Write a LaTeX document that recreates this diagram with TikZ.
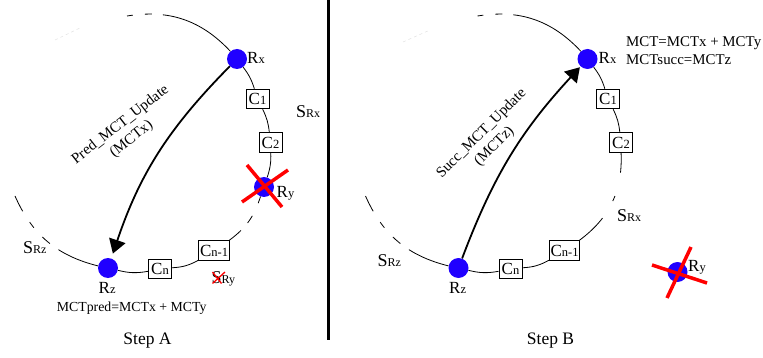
\documentclass[tikz,border=0pt]{standalone}
\usepackage{fontspec}
\setmainfont{Liberation Serif}
\usetikzlibrary{arrows.meta,calc}
\definecolor{dotblue}{RGB}{32,0,255}
\definecolor{xred}{RGB}{255,0,0}
\newcommand{\bigsm}[2]{{\fontsize{17}{18}\selectfont #1}{\fontsize{12.5}{13}\selectfont #2}}
\newcommand{\Slab}[1]{{\fontsize{18}{20}\selectfont S}{\fontsize{12}{13}\selectfont #1}}
\begin{document}
\begin{tikzpicture}[x=1pt,y=-1pt,
  ring/.style={draw=black, line width=0.8pt},
  dot/.style={circle, fill=dotblue, minimum size=20pt, inner sep=0pt},
  cbox/.style={draw=black, line width=1pt, fill=white, minimum width=23pt, minimum height=19.5pt, inner sep=1.2pt},
  arr/.style={draw=black, line width=1.8pt, -{Triangle[length=14pt,width=17pt]}},
  cross/.style={draw=xred, line width=3.5pt},
  txt/.style={inner sep=0pt, text=black},
  faint/.style={draw=black!10, line width=0.6pt, dashed},
]
\useasboundingbox (0,0) rectangle (763,358);

% separator
\draw[line width=3pt] (328.5,0) -- (328.5,340);

%================ Step A ================
\coordinate (aT) at (127,16);
\coordinate (aL) at (15,196);
\node[dot] (aRx) at (237,59) {};
\node[cbox] (aC1) at (257.5,99) {\bigsm{C}{1}};
\node[cbox] (aC2) at (270.5,142.5) {\bigsm{C}{2}};
\node[dot] (aRy) at (264,187) {};
\node[cbox, minimum width=30pt] (aCn1) at (214,250.5) {\bigsm{C}{n-1}};
\node[cbox] (aCn) at (160,269) {\bigsm{C}{n}};
\node[dot] (aRz) at (108,268) {};

\draw[faint] (55,40) -- (82,27);
\draw[ring, dash pattern=on 6pt off 12pt on 7pt off 11pt on 400pt] (aT) to[bend left=28] (aRx);
\draw[ring] (aRx) to[bend left=10] (aC1);
\draw[ring] (aC1) to[bend left=10] (aC2);
\draw[ring] (aC2) to[bend left=10] (aRy);
\draw[ring, dash pattern=on 7pt off 14pt on 8.5pt off 10pt on 60pt] (aRy) to[bend left=18] (aCn1);
\draw[ring] (aCn1) to[bend left=13] (aCn);
\draw[ring] (aCn) to[bend left=12] (aRz);
\draw[ring, dash pattern=on 43pt off 10.5pt on 10pt off 12.5pt on 7pt off 13pt on 20pt] (aRz) to[bend left=26] (aL);

\draw[arr, shorten >=5pt] (aRx) to[bend right=13] (aRz);

\draw[cross] ($(aRy)+(-17,-22)$) -- ($(aRy)+(18,20)$);
\draw[cross] ($(aRy)+(24,-17)$) -- ($(aRy)+(-22,15)$);

\node[txt, anchor=base west] (aRxl) at (247,64) {\bigsm{R}{x}};
\node[txt, anchor=base west] (aRyl) at (276.5,197.5) {\bigsm{R}{y}};
\node[txt, anchor=base west] (aRzl) at (98.5,293.5) {\bigsm{R}{z}};
\node[txt, anchor=base west] (aSRx) at (296,118) {\Slab{Rx}};
\node[txt, anchor=base west] (aSRz) at (23,253) {\Slab{Rz}};
\node[txt, anchor=base west] (aSRy) at (211.5,283) {\Slab{Ry}};
\draw[draw=xred, line width=1.3pt] (212.5,272) -- (221.5,283.5);
\draw[draw=xred, line width=1.3pt] (212.5,283.5) -- (225,272);

\node[txt, rotate=38, align=center, font=\fontsize{15}{18}\selectfont] (aUpd) at (126,132) {Pred\_MCT\_Update\\(MCTx)};
\node[txt, anchor=base west, font=\fontsize{13.8}{16}\selectfont] (aMCT) at (56.7,311) {MCTpred=MCTx + MCTy};
\node[txt, anchor=base, font=\fontsize{17.5}{20}\selectfont] (aStep) at (147.5,344.5) {Step A};

%================ Step B ================
\coordinate (bT) at (477.5,16);
\coordinate (bL) at (365.5,196);
\node[dot] (bRx) at (587.5,59) {};
\node[cbox] (bC1) at (608,99) {\bigsm{C}{1}};
\node[cbox] (bC2) at (621,142.5) {\bigsm{C}{2}};
\node[cbox, minimum width=30pt] (bCn1) at (564.5,250.5) {\bigsm{C}{n-1}};
\node[cbox] (bCn) at (510.5,269) {\bigsm{C}{n}};
\node[dot] (bRz) at (458.5,268) {};
\node[dot] (bRy) at (677.5,272) {};

\draw[faint] (403,42) -- (430,30);
\draw[ring, dash pattern=on 6pt off 12pt on 7pt off 11pt on 400pt] (bT) to[bend left=28] (bRx);
\draw[ring] (bRx) to[bend left=10] (bC1);
\draw[ring] (bC1) to[bend left=10] (bC2);
\draw[ring, dash pattern=on 20pt off 24pt on 5.5pt off 20pt on 80pt] (bC2) to[bend left=28] (bCn1);
\draw[ring] (bCn1) to[bend left=13] (bCn);
\draw[ring] (bCn) to[bend left=12] (bRz);
\draw[ring, dash pattern=on 43pt off 10.5pt on 10pt off 12.5pt on 7pt off 13pt on 20pt] (bRz) to[bend left=26] (bL);

\draw[arr, shorten >=1pt] (bRz) to[bend left=11] (bRx);

\draw[cross] ($(bRy)+(-25.5,-7)$) -- ($(bRy)+(29.5,11)$);
\draw[cross] ($(bRy)+(-10.5,26)$) -- ($(bRy)+(13.5,-25)$);

\node[txt, anchor=base west] (bRxl) at (598.5,64) {\bigsm{R}{x}};
\node[txt, anchor=base west] (bRyl) at (688,271) {\bigsm{R}{y}};
\node[txt, anchor=base west] (bRzl) at (449,293.5) {\bigsm{R}{z}};
\node[txt, anchor=base west] (bSRx) at (617,221.5) {\Slab{Rx}};
\node[txt, anchor=base west] (bSRz) at (377.5,266.5) {\Slab{Rz}};

\node[txt, rotate=45, align=center, font=\fontsize{15}{18}\selectfont] (bUpd) at (488,140) {Succ\_MCT\_Update\\(MCTz)};
\node[txt, anchor=base west, font=\fontsize{14.9}{18}\selectfont] (bMCT1) at (626,46.7) {MCT=MCTx + MCTy};
\node[txt, anchor=base west, font=\fontsize{14.9}{18}\selectfont] (bMCT2) at (626,65) {MCTsucc=MCTz};
\node[txt, anchor=base, font=\fontsize{17.5}{20}\selectfont] (bStep) at (550.5,344.5) {Step B};
\end{tikzpicture}
\end{document}
